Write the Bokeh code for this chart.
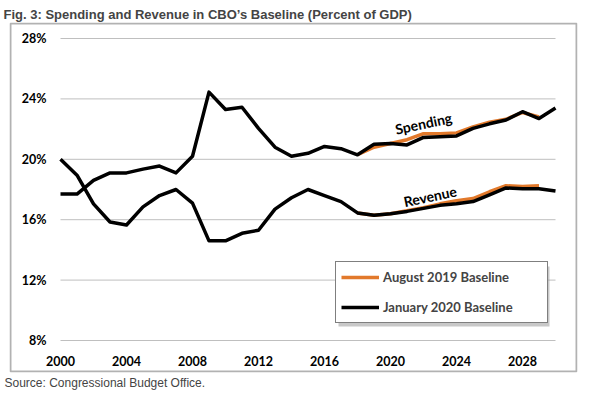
from bokeh.plotting import figure
from bokeh.models import Range1d, Legend, LegendItem, Title, BoxAnnotation
from bokeh.core.properties import value
from bokeh.embed import file_html
from bokeh.resources import INLINE

# ---- data (percent of GDP) ----
years = list(range(2000, 2031))
spending_jan2020 = [17.7, 17.7, 18.6, 19.1, 19.1, 19.35, 19.55, 19.1, 20.2, 24.45,
                    23.3, 23.45, 22.05, 20.8, 20.2, 20.4, 20.85, 20.7, 20.3, 21.0,
                    21.05, 20.95, 21.45, 21.5, 21.55, 22.05, 22.35, 22.6, 23.15, 22.7, 23.4]
revenue_jan2020 = [20.0, 18.95, 17.05, 15.85, 15.65, 16.85, 17.6, 18.0, 17.1, 14.6,
                   14.6, 15.1, 15.3, 16.7, 17.45, 18.0, 17.6, 17.2, 16.45, 16.3,
                   16.4, 16.55, 16.75, 16.95, 17.05, 17.2, 17.65, 18.1, 18.05, 18.05, 17.9]
years_aug2019 = list(range(2018, 2030))
spending_aug2019 = [20.3, 20.8, 21.05, 21.3, 21.7, 21.7, 21.75, 22.15, 22.45, 22.65, 23.1, 22.8]
revenue_aug2019 = [16.45, 16.3, 16.4, 16.6, 16.8, 17.05, 17.25, 17.4, 17.85, 18.25, 18.2, 18.25]

y_ticks = [8, 12, 16, 20, 24, 28]
y_tick_labels = ["8%", "12%", "16%", "20%", "24%", "28%"]
x_ticks = [2000, 2004, 2008, 2012, 2016, 2020, 2024, 2028]
x_tick_labels = ["2000", "2004", "2008", "2012", "2016", "2020", "2024", "2028"]

title_text = "Fig. 3: Spending and Revenue in CBO\u2019s Baseline (Percent of GDP)"
source_text = "Source: Congressional Budget Office."
series_names = ["August 2019 Baseline", "January 2020 Baseline"]
line_labels = ["Spending", "Revenue"]

# ---- layout constants ----
ORANGE = "#E2792B"
FRAME_W, FRAME_H = 568, 350
PX_X = 16.5   # px per year
PX_Y = 15.1   # px per percentage point
x0 = years[0] - 51 / PX_X
y0 = y_ticks[0] - 32 / PX_Y
x1 = x0 + FRAME_W / PX_X
y1 = y0 + FRAME_H / PX_Y
x_range = Range1d(x0, x1)
y_range = Range1d(y0, y1)

LEG_X, LEG_Y, LEG_W, LEG_H = 326, 49, 211, 60

p = figure(width=591, height=393, x_range=x_range, y_range=y_range,
           output_backend="svg", toolbar_location=None,
           min_border_left=9, min_border_right=14, min_border_top=22, min_border_bottom=21)
p.axis.visible = False
p.grid.visible = False
p.outline_line_color = None
p.background_fill_color = "white"
p.border_fill_color = "white"

p.title.text = title_text
p.title.text_font = "Liberation Sans"
p.title.text_font_style = "bold"
p.title.text_font_size = "13px"
p.title.standoff = 2
p.title.offset = -6

src = Title(text=source_text, text_font="Liberation Sans", text_font_style="normal",
            text_font_size="12px", standoff=2, offset=-5)
p.add_layout(src, "below")

# chart border
p.add_layout(BoxAnnotation(left=x0 + 1 / PX_X, right=x1 - 1 / PX_X,
                           bottom=y0 + 1 / PX_Y, top=y1 - 1 / PX_Y,
                           fill_alpha=0, line_color="black", line_width=2, level="underlay"))

# gridlines spanning the data years
p.segment(x0=[years[0]] * len(y_ticks), x1=[years[-1]] * len(y_ticks),
          y0=y_ticks, y1=y_ticks, line_color="#BFBFBF", line_width=1)

# tick labels
p.text(x=[years[0] - 14 / PX_X] * len(y_ticks), y=y_ticks, text=y_tick_labels,
       text_align="right", text_baseline="middle", text_font=value("Lato"),
       text_font_style="bold", text_font_size="12.5px", text_color="black")
p.text(x=x_ticks, y=[y_ticks[0] - 20 / PX_Y] * len(x_ticks), text=x_tick_labels,
       text_align="center", text_baseline="middle", text_font=value("Lato"),
       text_font_style="bold", text_font_size="12.5px", text_color="black")

# lines
a1 = p.line(years_aug2019, spending_aug2019, line_color=ORANGE, line_width=3.5, line_join="round")
p.line(years_aug2019, revenue_aug2019, line_color=ORANGE, line_width=3.5, line_join="round")
j1 = p.line(years, spending_jan2020, line_color="black", line_width=3.5, line_join="round")
p.line(years, revenue_jan2020, line_color="black", line_width=3.5, line_join="round")

# series annotations
i_s = years.index(2022)
p.text(x=[years[i_s]], y=[spending_jan2020[i_s] + 14 / PX_Y], text=[line_labels[0]],
       angle=0.21, text_align="center", text_baseline="middle", text_font=value("Lato"),
       text_font_style="bold", text_font_size="14px", text_color="black")
i_r = years.index(2022)
p.text(x=[years[i_r] + 0.4], y=[revenue_jan2020[i_r] + 12 / PX_Y], text=[line_labels[1]],
       angle=0.21, text_align="center", text_baseline="middle", text_font=value("Lato"),
       text_font_style="bold", text_font_size="14px", text_color="black")

# legend shadow
p.add_layout(BoxAnnotation(left=x0 + (LEG_X + 3) / PX_X, right=x0 + (LEG_X + LEG_W + 3) / PX_X,
                           bottom=y0 + (LEG_Y - 3) / PX_Y, top=y0 + (LEG_Y + LEG_H - 3) / PX_Y,
                           fill_color="#9a9a9a", fill_alpha=0.55, line_color=None))

legend = Legend(items=[LegendItem(label=series_names[0], renderers=[a1]),
                       LegendItem(label=series_names[1], renderers=[j1])],
                location=(LEG_X, LEG_Y))
legend.border_line_color = "black"
legend.border_line_width = 1.5
legend.background_fill_color = "white"
legend.background_fill_alpha = 1
legend.label_text_font = "Lato"
legend.label_text_font_style = "bold"
legend.label_text_font_size = "13px"
legend.glyph_width = 38
legend.glyph_height = 20
legend.label_height = 20
legend.label_standoff = 4
legend.spacing = 10
legend.padding = 5
legend.margin = 0
legend.label_width = 159
p.add_layout(legend, "center")

open("out.html", "w").write(file_html(p, INLINE))
